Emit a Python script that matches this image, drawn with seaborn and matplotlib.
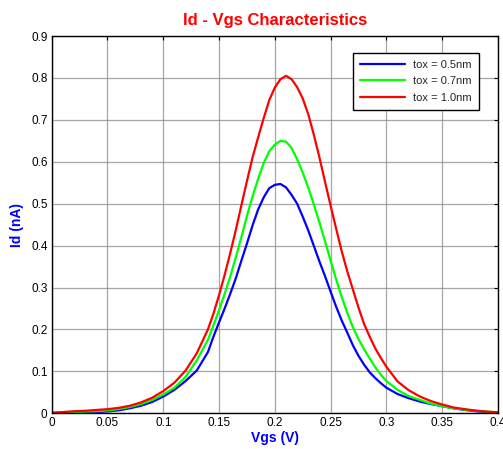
import numpy as np
import pandas as pd
import matplotlib
matplotlib.use("Agg")
import matplotlib.pyplot as plt
import seaborn as sns

vgs = [0.00, 0.01, 0.02, 0.03, 0.04, 0.05, 0.06, 0.07, 0.08, 0.09,
       0.10, 0.11, 0.12, 0.13, 0.14, 0.145, 0.15, 0.155, 0.16, 0.165,
       0.17, 0.175, 0.18, 0.185, 0.19, 0.195, 0.20, 0.205, 0.21, 0.215,
       0.22, 0.225, 0.23, 0.235, 0.24, 0.245, 0.25, 0.255, 0.26, 0.265,
       0.27, 0.275, 0.28, 0.285, 0.29, 0.295, 0.30, 0.31, 0.32, 0.33,
       0.34, 0.35, 0.36, 0.37, 0.38, 0.39, 0.40]

id_tox05 = [0.0, 0.001, 0.002, 0.002, 0.003, 0.0045, 0.007, 0.012, 0.018, 0.027,
            0.040, 0.056, 0.077, 0.102, 0.146, 0.183, 0.217, 0.250, 0.285, 0.322,
            0.364, 0.405, 0.448, 0.486, 0.515, 0.537, 0.545, 0.547, 0.539, 0.521,
            0.500, 0.469, 0.436, 0.399, 0.362, 0.327, 0.290, 0.254, 0.221, 0.192,
            0.162, 0.137, 0.116, 0.098, 0.084, 0.072, 0.061, 0.046, 0.036, 0.028,
            0.022, 0.017, 0.012, 0.008, 0.005, 0.003, 0.0015]

id_tox07 = [0.001, 0.002, 0.003, 0.004, 0.005, 0.0068, 0.010, 0.015, 0.022, 0.032,
            0.045, 0.061, 0.087, 0.126, 0.175, 0.210, 0.246, 0.285, 0.326, 0.372,
            0.420, 0.471, 0.517, 0.559, 0.597, 0.625, 0.641, 0.650, 0.648, 0.633,
            0.606, 0.574, 0.538, 0.498, 0.455, 0.410, 0.364, 0.319, 0.277, 0.239,
            0.205, 0.177, 0.153, 0.131, 0.110, 0.092, 0.077, 0.056, 0.041, 0.032,
            0.023, 0.017, 0.012, 0.0085, 0.006, 0.004, 0.002]

id_tox10 = [0.0015, 0.003, 0.005, 0.006, 0.008, 0.0098, 0.013, 0.018, 0.026, 0.037,
            0.053, 0.073, 0.102, 0.143, 0.200, 0.238, 0.282, 0.330, 0.382, 0.437,
            0.496, 0.554, 0.610, 0.658, 0.704, 0.747, 0.777, 0.797, 0.805, 0.797,
            0.778, 0.751, 0.713, 0.664, 0.610, 0.552, 0.495, 0.440, 0.386, 0.338,
            0.295, 0.252, 0.213, 0.183, 0.155, 0.132, 0.111, 0.076, 0.055, 0.040,
            0.029, 0.021, 0.014, 0.010, 0.0065, 0.004, 0.0024]

series_names = ["tox = 0.5nm", "tox = 0.7nm", "tox = 1.0nm"]
x_ticks = [0, 0.05, 0.1, 0.15, 0.2, 0.25, 0.3, 0.35, 0.4]
x_tick_labels = ["0", "0.05", "0.1", "0.15", "0.2", "0.25", "0.3", "0.35", "0.4"]
y_ticks = [0, 0.1, 0.2, 0.3, 0.4, 0.5, 0.6, 0.7, 0.8, 0.9]
y_tick_labels = ["0", "0.1", "0.2", "0.3", "0.4", "0.5", "0.6", "0.7", "0.8", "0.9"]

df = pd.concat([
    pd.DataFrame({"Vgs": vgs, "Id": vals, "series": name})
    for name, vals in zip(series_names, [id_tox05, id_tox07, id_tox10])
], ignore_index=True)

sns.set_style("white")
plt.rcParams["font.family"] = ["Liberation Sans", "DejaVu Sans"]

fig = plt.figure(figsize=(5.03, 4.49), dpi=100)
ax = fig.add_axes([0.1028, 0.0795, 0.8872, 0.8403])

sns.lineplot(data=df, x="Vgs", y="Id", hue="series", hue_order=series_names,
             palette=["#0000ff", "#00ff00", "#ff0000"], linewidth=1.6,
             ax=ax, legend=True)

ax.set_xlim(0, 0.4)
ax.set_ylim(0, 0.9)
ax.set_xticks(x_ticks)
ax.set_xticklabels(x_tick_labels)
ax.set_yticks(y_ticks)
ax.set_yticklabels(y_tick_labels)
ax.tick_params(direction="in", length=3, width=0.8, labelsize=8.5, colors="black",
               top=True, right=True, pad=3)
ax.grid(True, color="#8a8a8a", linewidth=0.9, linestyle="-", alpha=0.75)
for s in ax.spines.values():
    s.set_color("black")
    s.set_linewidth(1.0)
    s.set_visible(True)

ax.set_title("Id - Vgs Characteristics", color="#ff0000", fontweight="bold",
             fontsize=12, pad=8)
ax.set_xlabel("Vgs (V)", color="#0000ff", fontweight="bold", fontsize=10, labelpad=1)
ax.set_ylabel("Id (nA)", color="#0000ff", fontweight="bold", fontsize=10, labelpad=5)

leg = ax.legend(loc="upper right", bbox_to_anchor=(0.957, 0.955), fontsize=8,
                frameon=True, fancybox=False, edgecolor="black", framealpha=1,
                handlelength=4.0, handletextpad=0.8, borderpad=0.6,
                labelspacing=0.6, borderaxespad=0)
leg.get_frame().set_linewidth(1.0)

fig.savefig("out.png", dpi=100)
